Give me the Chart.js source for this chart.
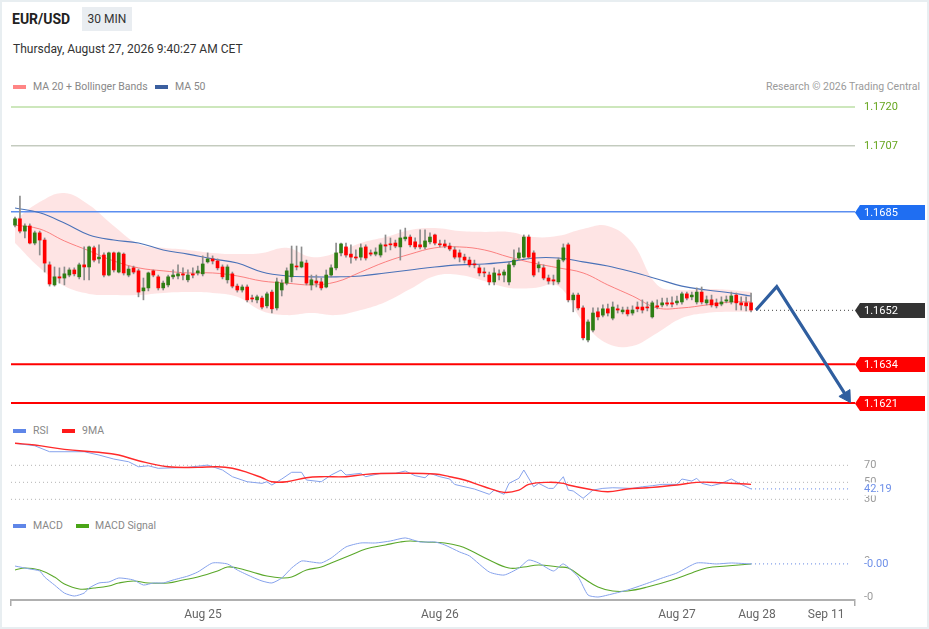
<!DOCTYPE html>
<html>
<head>
<meta charset="utf-8">
<script src="https://cdn.jsdelivr.net/npm/chart.js@4.4.1/dist/chart.umd.min.js"></script>
<style>
html,body{margin:0;padding:0;background:#fff;}
#wrap{position:relative;width:929px;height:629px;overflow:hidden;font-family:Roboto,Arial,sans-serif;background:#fff;}
#frame{position:absolute;left:0;top:0;width:929px;height:629px;box-sizing:border-box;border:2px solid #e8eef1;pointer-events:none;z-index:20;}
canvas{position:absolute;left:0;}
.t{position:absolute;white-space:nowrap;}
.sw{position:absolute;height:4px;width:13px;}
</style>
</head>
<body>
<div id="wrap">
  <div class="t" style="left:12px;top:10px;font-size:14px;font-weight:bold;color:#222;line-height:18px;">EUR/USD</div>
  <div class="t" style="left:82px;top:7px;width:50px;height:24px;background:#e9edf1;font-size:12px;color:#333;line-height:24px;text-align:center;">30 MIN</div>
  <div class="t" style="left:13px;top:41px;font-size:12px;color:#333;line-height:16px;">Thursday, August 27, 2026 9:40:27 AM CET</div>

  <div class="sw" style="left:13px;top:85px;background:#ff8585;"></div>
  <div class="t" style="left:33px;top:80px;font-size:10.5px;color:#888;line-height:14px;">MA 20 + Bollinger Bands</div>
  <div class="sw" style="left:155px;top:85px;background:#3b5f9f;"></div>
  <div class="t" style="left:175px;top:80px;font-size:10.5px;color:#888;line-height:14px;">MA 50</div>
  <div class="t" style="right:9px;top:80px;font-size:10.5px;color:#9a9a9a;line-height:14px;">Research © 2026 Trading Central</div>

  <div class="sw" style="left:13px;top:429px;background:#5f86e8;"></div>
  <div class="t" style="left:33px;top:424px;font-size:10.5px;color:#888;line-height:14px;">RSI</div>
  <div class="sw" style="left:62px;top:429px;background:#ff1a1a;"></div>
  <div class="t" style="left:82px;top:424px;font-size:10.5px;color:#888;line-height:14px;">9MA</div>

  <div class="sw" style="left:13px;top:524px;background:#5f86e8;"></div>
  <div class="t" style="left:33px;top:519px;font-size:10.5px;color:#888;line-height:14px;">MACD</div>
  <div class="sw" style="left:76px;top:524px;background:#4aa517;"></div>
  <div class="t" style="left:95px;top:519px;font-size:10.5px;color:#888;line-height:14px;">MACD Signal</div>

  <canvas id="mainChart" width="929" height="320" style="top:95px;"></canvas>
  <canvas id="rsiChart" width="929" height="68" style="top:436px;"></canvas>
  <canvas id="macdChart" width="929" height="96" style="top:530px;"></canvas>
  <div id="frame"></div>
</div>
<script>
// ---------------- DATA ----------------
const opens = [1.16805,1.16826,1.16785,1.16802,1.16745,1.16779,1.16755,1.16672,1.16605,1.16632,
1.16628,1.16638,1.16655,1.16632,1.16672,1.16665,1.16729,1.16692,1.16705,1.16638,
1.16712,1.16648,1.16708,1.16638,1.16662,1.16652,1.16585,1.16595,1.16652,1.16632,
1.16595,1.16605,1.16632,1.16635,1.16642,1.16622,1.16642,1.16645,1.16642,1.16682,
1.16692,1.16685,1.16665,1.16622,1.16642,1.16601,1.16588,1.16598,1.16561,1.16555,
1.16561,1.16535,1.16581,1.16528,1.16588,1.16611,1.16632,1.16668,1.16665,1.16678,
1.16605,1.16618,1.16615,1.16598,1.16638,1.16662,1.16712,1.16732,1.16708,1.16698,
1.16698,1.16732,1.16712,1.16708,1.16705,1.16739,1.16742,1.16745,1.16732,1.16759,
1.16765,1.16749,1.16739,1.16732,1.16749,1.16772,1.16742,1.16742,1.16735,1.16722,
1.16712,1.16698,1.16688,1.16675,1.16662,1.16648,1.16638,1.16615,1.16642,1.16638,
1.16615,1.16672,1.16695,1.16698,1.16765,1.16712,1.16662,1.16662,1.16628,1.16622,
1.16615,1.16688,1.16739,1.16555,1.16571,1.16528,1.16421,1.16454,1.16515,1.16504,
1.16525,1.16494,1.16525,1.16515,1.16521,1.16511,1.16531,1.16531,1.16531,1.16498,
1.16535,1.16538,1.16545,1.16545,1.16545,1.16548,1.16575,1.16565,1.16548,1.16581,
1.16545,1.16555,1.16545,1.16541,1.16551,1.16548,1.16571,1.16545,1.16545,1.16545];
const closes = [1.16826,1.16785,1.16802,1.16745,1.16779,1.16755,1.16678,1.16608,1.16632,1.16628,
1.16642,1.16655,1.16642,1.16672,1.16665,1.16732,1.16688,1.16698,1.16638,1.16712,
1.16655,1.16712,1.16645,1.16658,1.16648,1.16581,1.16595,1.16645,1.16638,1.16595,
1.16611,1.16632,1.16638,1.16642,1.16638,1.16638,1.16638,1.16652,1.16675,1.16692,
1.16685,1.16662,1.16632,1.16665,1.16601,1.16588,1.16598,1.16555,1.16558,1.16565,
1.16531,1.16575,1.16525,1.16615,1.16611,1.16652,1.16675,1.16665,1.16682,1.16611,
1.16622,1.16611,1.16595,1.16638,1.16662,1.16712,1.16742,1.16705,1.16698,1.16695,
1.16729,1.16695,1.16708,1.16715,1.16739,1.16735,1.16739,1.16735,1.16762,1.16765,
1.16739,1.16732,1.16732,1.16752,1.16765,1.16745,1.16739,1.16735,1.16725,1.16698,
1.16698,1.16688,1.16672,1.16672,1.16645,1.16645,1.16615,1.16645,1.16638,1.16648,
1.16672,1.16688,1.16712,1.16765,1.16698,1.16638,1.16672,1.16628,1.16618,1.16618,
1.16688,1.16729,1.16555,1.16571,1.16528,1.16428,1.16481,1.16511,1.16498,1.16525,
1.16511,1.16531,1.16521,1.16521,1.16508,1.16521,1.16525,1.16521,1.16528,1.16545,
1.16531,1.16545,1.16541,1.16541,1.16551,1.16575,1.16561,1.16571,1.16581,1.16548,
1.16555,1.16538,1.16535,1.16548,1.16555,1.16568,1.16545,1.16538,1.16535,1.16521];
const highs = [1.16832,1.16902,1.16809,1.16809,1.16785,1.16785,1.16762,1.16682,1.16665,1.16662,
1.16665,1.16662,1.16662,1.16678,1.16732,1.16735,1.16735,1.16739,1.16712,1.16715,
1.16715,1.16715,1.16712,1.16668,1.16668,1.16658,1.16628,1.16648,1.16655,1.16638,
1.16618,1.16638,1.16655,1.16672,1.16662,1.16655,1.16662,1.16668,1.16702,1.16712,
1.16702,1.16692,1.16672,1.16672,1.16648,1.16608,1.16605,1.16605,1.16571,1.16571,
1.16568,1.16581,1.16588,1.16628,1.16622,1.16662,1.16735,1.16735,1.16732,1.16688,
1.16638,1.16638,1.16628,1.16655,1.16672,1.16745,1.16745,1.16745,1.16739,1.16722,
1.16742,1.16739,1.16722,1.16729,1.16745,1.16772,1.16762,1.16755,1.16789,1.16795,
1.16772,1.16762,1.16789,1.16789,1.16779,1.16775,1.16755,1.16755,1.16745,1.16732,
1.16722,1.16708,1.16698,1.16688,1.16672,1.16662,1.16648,1.16662,1.16655,1.16655,
1.16682,1.16722,1.16729,1.16772,1.16772,1.16719,1.16682,1.16672,1.16638,1.16638,
1.16695,1.16742,1.16745,1.16578,1.16578,1.16535,1.16488,1.16528,1.16528,1.16538,
1.16541,1.16548,1.16538,1.16531,1.16531,1.16535,1.16548,1.16555,1.16548,1.16551,
1.16555,1.16561,1.16561,1.16565,1.16568,1.16581,1.16581,1.16581,1.16595,1.16598,
1.16568,1.16571,1.16558,1.16565,1.16568,1.16581,1.16578,1.16565,1.16565,1.16578];
const lows = [1.16799,1.16779,1.16762,1.16742,1.16739,1.16705,1.16648,1.16601,1.16601,1.16611,
1.16605,1.16632,1.16635,1.16625,1.16622,1.16622,1.16682,1.16678,1.16632,1.16635,
1.16648,1.16645,1.16638,1.16632,1.16642,1.16565,1.16555,1.16585,1.16632,1.16588,
1.16588,1.16598,1.16625,1.16625,1.16622,1.16615,1.16628,1.16638,1.16635,1.16678,
1.16675,1.16655,1.16625,1.16611,1.16595,1.16581,1.16581,1.16548,1.16548,1.16545,
1.16525,1.16528,1.16511,1.16521,1.16568,1.16605,1.16615,1.16655,1.16662,1.16605,
1.16588,1.16598,1.16588,1.16595,1.16632,1.16655,1.16702,1.16698,1.16678,1.16688,
1.16688,1.16688,1.16702,1.16702,1.16698,1.16715,1.16722,1.16729,1.16688,1.16752,
1.16732,1.16725,1.16725,1.16725,1.16742,1.16739,1.16732,1.16729,1.16719,1.16692,
1.16682,1.16678,1.16665,1.16662,1.16635,1.16632,1.16605,1.16605,1.16622,1.16615,
1.16605,1.16665,1.16688,1.16695,1.16692,1.16632,1.16648,1.16622,1.16608,1.16605,
1.16608,1.16682,1.16548,1.16515,1.16521,1.16421,1.16414,1.16448,1.16488,1.16498,
1.16501,1.16488,1.16511,1.16508,1.16501,1.16504,1.16515,1.16511,1.16518,1.16494,
1.16525,1.16531,1.16535,1.16531,1.16538,1.16541,1.16555,1.16555,1.16541,1.16541,
1.16538,1.16531,1.16528,1.16535,1.16545,1.16541,1.16521,1.16521,1.16518,1.16515];

const bandIdx = [0,5,10,15,20,25,30,35,40,45,50,55,60,65,70,75,80,85,90,95,100,105,110,115,120,125,130,135,140,145,149];
const bbUpper = [1.16822,1.16882,1.16912,1.16872,1.16802,1.16742,1.16729,1.16722,1.16712,1.16708,1.16712,1.16729,1.16698,1.16712,1.16745,1.16765,1.16789,1.16795,1.16785,1.16782,1.16782,1.16765,1.16769,1.16792,1.16802,1.16745,1.16605,1.16588,1.16591,1.16588,1.16581];
const bbLower = [1.16745,1.16662,1.16601,1.16575,1.16571,1.16571,1.16578,1.16581,1.16578,1.16565,1.16518,1.16504,1.16511,1.16504,1.16521,1.16548,1.16591,1.16635,1.16638,1.16618,1.16595,1.16595,1.16601,1.16481,1.16408,1.16401,1.16444,1.16494,1.16511,1.16515,1.16515];
const ma20 = [1.16805,1.16792,1.16752,1.16719,1.16685,1.16662,1.16652,1.16645,1.16645,1.16635,1.16618,1.16611,1.16605,1.16615,1.16648,1.16682,1.16708,1.16729,1.16732,1.16722,1.16698,1.16678,1.16662,1.16645,1.16605,1.16568,1.16528,1.16528,1.16538,1.16548,1.16548];
const ma50 = [1.16862,1.16846,1.16812,1.16772,1.16755,1.16745,1.16722,1.16708,1.16692,1.16678,1.16648,1.16635,1.16632,1.16632,1.16635,1.16645,1.16655,1.16665,1.16672,1.16675,1.16682,1.16695,1.16695,1.16682,1.16668,1.16648,1.16625,1.16601,1.16588,1.16578,1.16568];

const levels = [1.1720, 1.1707, 1.1685, 1.1652, 1.1634, 1.1621];
const projIdx = [150, 154.2, 168.3];
const projPrice = [1.16521, 1.16599, 1.16233];

const rsiIdx = [0,4,7,14,17,20,23,25,27,29,35,39,42,44,47,50,51,52,54,56,58,59,62,64,66,67,70,71,74,77,79,81,83,84,86,88,89,93,96,97,99,100,102,103,105,106,108,109,111,112,113,115,117,119,121,125,127,129,131,134,135,137,138,139,141,143,145,147,149];
const rsiVals = [95.9,93.0,86.0,86.0,82.1,77.4,74.2,68.3,69.5,66.5,67.6,70.3,64.5,56.6,50.7,48.8,50.7,46.8,53.9,61.8,61.8,52.7,50.7,58.6,64.5,58.6,60.6,56.6,60.6,60.6,63.3,57.8,55.4,60.6,56.6,53.9,47.5,42.1,35.9,40.9,35.9,48.8,54.7,64.5,44.8,48.8,42.9,42.9,56.6,40.9,39.8,31.2,40.9,42.9,43.6,42.9,44.8,46.0,47.6,47.6,53.9,51.5,54.7,48.8,46.0,48.8,53.9,47.6,42.19];
const rsiMaIdx = [0,4,10,17,21,25,31,37,41,44,47,50,52,55,59,62,67,71,78,85,88,91,95,99,102,104,108,111,112,116,120,124,128,134,138,143,149];
const rsiMaVals = [95.9,93.9,88.8,85.3,82.1,75.4,68.3,67.6,68.3,66.5,61.8,55.4,50.7,50.7,55.4,56.6,56.6,59.4,60.6,59.8,56.6,52.7,44.8,38.2,40.9,47.6,50.0,48.8,46.8,42.1,38.9,42.1,43.6,46.8,50.0,49.5,47.6];
const rsiLevels = [70, 50, 30];

const macdIdx = [0,3,5,6,8,10,12,14,15,17,19,21,24,26,28,30,32,35,37,40,43,45,48,50,52,54,56,58,60,62,64,67,70,73,76,79,82,85,87,90,92,96,99,102,104,106,109,111,114,116,118,120,124,127,131,134,138,142,145,149];
const macdVals = [-0.000056,-0.000089,-0.000111,-0.000178,-0.000267,-0.000356,-0.000389,-0.000356,-0.000300,-0.000244,
-0.000233,-0.000189,-0.000211,-0.000267,-0.000244,-0.000244,-0.000211,-0.000167,-0.000122,-0.000022,
-0.000033,-0.000100,-0.000178,-0.000222,-0.000244,-0.000189,-0.000078,0.000000,-0.000011,-0.000022,
0.000033,0.000156,0.000200,0.000200,0.000222,0.000256,0.000211,0.000211,0.000178,0.000100,
0.000056,-0.000122,-0.000156,-0.000078,0.000011,-0.000022,-0.000111,-0.000033,-0.000178,-0.000378,
-0.000400,-0.000378,-0.000322,-0.000267,-0.000189,-0.000133,-0.000022,-0.000033,-0.000022,-0.000033];
const signalIdx = [0,2,5,8,10,13,16,19,21,24,27,31,34,37,41,43,45,48,51,54,56,59,62,64,68,71,75,78,80,83,87,90,92,96,100,103,106,110,112,115,118,121,124,128,133,137,140,144,149];
const signalVals = [-0.000100,-0.000078,-0.000100,-0.000178,-0.000256,-0.000311,-0.000300,-0.000278,-0.000244,-0.000222,
-0.000244,-0.000244,-0.000211,-0.000178,-0.000111,-0.000067,-0.000078,-0.000122,-0.000167,-0.000189,
-0.000178,-0.000100,-0.000067,-0.000022,0.000067,0.000133,0.000178,0.000211,0.000222,0.000211,
0.000200,0.000167,0.000122,0.000011,-0.000078,-0.000067,-0.000044,-0.000067,-0.000078,-0.000189,
-0.000289,-0.000333,-0.000333,-0.000289,-0.000211,-0.000133,-0.000078,-0.000056,-0.000033];
const macdTicks = [0, -0.0004];

const tickIdx = [38.06, 86, 134, 150.2, 164.2];
const tickLabels = ['Aug 25', 'Aug 26', 'Aug 27', 'Aug 28', 'Sep 11'];

// ---------------- LAYOUT / STYLE ----------------
const X_MIN = -0.81, X_MAX = 170.04, X_EXT = 169.2;
const PRICE_MIN = 1.1617, PRICE_MAX = 1.1724;
const RSI_MIN = 24.5, RSI_MAX = 104.5;
const MACD_MIN = -0.000433, MACD_MAX = 0.000344;
const PAD = {left: 11, right: 74, top: 0, bottom: 0};
const FONT = 'Roboto, Arial, sans-serif';
const GREEN = '#2f7d14', RED = '#ff0000', WICK = '#8c8c8c';
const levelStyle = [
  {line: '#bddfa6', w: 1.5, kind: 'text', color: '#66a61e'},
  {line: '#a8b3a0', w: 1, kind: 'text', color: '#66a61e'},
  {line: '#5b8ef0', w: 1.5, kind: 'tag', color: '#1f6ef2'},
  {line: '#444444', w: 1, kind: 'tag', color: '#333333', dash: [1, 3], fromProj: true},
  {line: '#ff0000', w: 2, kind: 'tag', color: '#ff0000'},
  {line: '#ff0000', w: 2, kind: 'tag', color: '#ff0000'}
];

Chart.defaults.font.family = FONT;
Chart.defaults.animation = false;

const pts = (xs, ys) => xs.map((x, i) => ({x: x, y: ys[i]}));
const idx = opens.map((_, i) => i);
const bodyColor = (ctx) => {
  const i = ctx.dataIndex;
  return closes[i] >= opens[i] ? GREEN : RED;
};
const commonX = {type: 'linear', min: X_MIN, max: X_MAX, display: false, offset: false, grid: {offset: false}};
const baseOpts = {
  responsive: false,
  maintainAspectRatio: false,
  animation: false,
  events: [],
  layout: {padding: PAD, autoPadding: false},
  plugins: {legend: {display: false}, tooltip: {enabled: false}}
};

// ---------------- MAIN CHART ----------------
const levelDatasets = levels.map((v, i) => {
  const s = levelStyle[i];
  const x0 = s.fromProj ? projIdx[0] : X_MIN;
  return {
    type: 'line', data: [{x: x0, y: v}, {x: X_MAX, y: v}],
    borderColor: s.line, borderWidth: s.w, borderDash: s.dash || [],
    pointRadius: 0, fill: false, order: 6
  };
});

const tagPlugin = {
  id: 'levelTags',
  afterDatasetsDraw(chart) {
    const ctx = chart.ctx, ys = chart.scales.y, ca = chart.chartArea;
    ctx.save();
    ctx.font = '11px ' + FONT;
    ctx.textBaseline = 'middle';
    levels.forEach((v, i) => {
      const s = levelStyle[i];
      const py = Math.round(ys.getPixelForValue(v)) + 0.5;
      const txt = v.toFixed(4);
      const tx = ca.right + 9;
      if (s.kind === 'text') {
        ctx.fillStyle = s.color;
        ctx.fillText(txt, tx, py);
      } else {
        const l = ca.right, r = chart.width - 4, h = 7.5;
        ctx.fillStyle = s.color;
        ctx.beginPath();
        ctx.moveTo(l, py);
        ctx.lineTo(l + 5, py - h);
        ctx.lineTo(r, py - h);
        ctx.lineTo(r, py + h);
        ctx.lineTo(l + 5, py + h);
        ctx.closePath();
        ctx.fill();
        ctx.fillStyle = '#ffffff';
        ctx.fillText(txt, tx, py + 0.5);
      }
    });
    ctx.restore();
  }
};

new Chart(document.getElementById('mainChart'), {
  type: 'line',
  data: {
    datasets: [
      {type: 'line', data: pts(bandIdx, bbUpper), borderWidth: 0, borderColor: 'rgba(0,0,0,0)', pointRadius: 0,
       tension: 0.4, fill: '+1', backgroundColor: 'rgba(250,90,90,0.16)', order: 20},
      {type: 'line', data: pts(bandIdx, bbLower), borderWidth: 0, borderColor: 'rgba(0,0,0,0)', pointRadius: 0,
       tension: 0.4, fill: false, order: 20},
      {type: 'line', data: pts(bandIdx, ma20), borderColor: 'rgba(250,110,110,0.85)', borderWidth: 1, pointRadius: 0,
       tension: 0.4, fill: false, order: 5},
      {type: 'line', data: pts(bandIdx, ma50), borderColor: '#4a72b8', borderWidth: 1.1, pointRadius: 0,
       tension: 0.4, fill: false, order: 5},
      ...levelDatasets,
      {type: 'bar', data: idx.map(i => ({x: i, y: [lows[i], highs[i]]})), backgroundColor: WICK,
       barThickness: 1, grouped: false, minBarLength: 1, order: 3},
      {type: 'bar', data: idx.map(i => ({x: i, y: [opens[i], closes[i]]})), backgroundColor: bodyColor,
       barThickness: 3, grouped: false, minBarLength: 1, order: 2},
      {type: 'line', data: pts(projIdx, projPrice), borderColor: '#2f5e9f', borderWidth: 3.2,
       pointRadius: [0, 0, 7.5], pointStyle: 'triangle', pointRotation: [0, 0, 148],
       pointBackgroundColor: '#2f5e9f', pointBorderColor: '#2f5e9f', pointBorderWidth: 1,
       tension: 0, fill: false, order: 1, clip: false}
    ]
  },
  options: Object.assign({}, baseOpts, {
    scales: {
      x: commonX,
      y: {type: 'linear', min: PRICE_MIN, max: PRICE_MAX, display: false, beginAtZero: false}
    }
  }),
  plugins: [tagPlugin]
});

// ---------------- RSI CHART ----------------
const rsiLast = rsiVals[rsiVals.length - 1];
const rsiLabelPlugin = {
  id: 'rsiLabels',
  afterDatasetsDraw(chart) {
    const ctx = chart.ctx, ys = chart.scales.y, ca = chart.chartArea;
    ctx.save();
    ctx.font = '11px ' + FONT;
    ctx.textBaseline = 'middle';
    ctx.fillStyle = '#9a9a9a';
    rsiLevels.forEach(v => ctx.fillText(String(v), ca.right + 9, ys.getPixelForValue(v)));
    const py = ys.getPixelForValue(rsiLast);
    ctx.fillStyle = '#ffffff';
    ctx.fillRect(ca.right + 7, py - 6.5, 40, 13);
    ctx.fillStyle = '#6d8fe8';
    ctx.fillText(rsiLast.toFixed(2), ca.right + 9, py + 0.5);
    ctx.restore();
  }
};
new Chart(document.getElementById('rsiChart'), {
  type: 'line',
  data: {
    datasets: [
      ...rsiLevels.map(v => ({data: [{x: X_MIN, y: v}, {x: X_EXT, y: v}], borderColor: '#b5b5b5', borderWidth: 1,
        borderDash: [1, 3], pointRadius: 0, fill: false, order: 10})),
      {data: [{x: rsiIdx[rsiIdx.length - 1], y: rsiLast}, {x: X_EXT, y: rsiLast}], borderColor: '#7d9be8', borderWidth: 1.2,
        borderDash: [1, 3], pointRadius: 0, fill: false, order: 9},
      {data: pts(rsiIdx, rsiVals), borderColor: '#86a2ec', borderWidth: 1, pointRadius: 0, tension: 0, fill: false, order: 2},
      {data: pts(rsiMaIdx, rsiMaVals), borderColor: '#ff2a2a', borderWidth: 1.4, pointRadius: 0, tension: 0.4, fill: false, order: 1}
    ]
  },
  options: Object.assign({}, baseOpts, {
    scales: {
      x: commonX,
      y: {type: 'linear', min: RSI_MIN, max: RSI_MAX, display: false}
    }
  }),
  plugins: [rsiLabelPlugin]
});

// ---------------- MACD CHART ----------------
const macdLast = macdVals[macdVals.length - 1];
const macdLabelPlugin = {
  id: 'macdLabels',
  afterDatasetsDraw(chart) {
    const ctx = chart.ctx, ys = chart.scales.y, ca = chart.chartArea;
    ctx.save();
    ctx.font = '11px ' + FONT;
    ctx.textBaseline = 'middle';
    ctx.fillStyle = '#9a9a9a';
    macdTicks.forEach(v => ctx.fillText(v.toFixed(0), ca.right + 9, ys.getPixelForValue(v)));
    const py = ys.getPixelForValue(macdLast);
    ctx.fillStyle = '#ffffff';
    ctx.fillRect(ca.right + 7, py - 6, 40, 13);
    ctx.fillStyle = '#6d8fe8';
    ctx.fillText(macdLast.toFixed(2), ca.right + 9, py + 0.5);
    ctx.restore();
  }
};
const xTickValues = [X_MIN, ...tickIdx, X_MAX];
const xTickText = ['', ...tickLabels, ''];
new Chart(document.getElementById('macdChart'), {
  type: 'line',
  data: {
    datasets: [
      {data: [{x: macdIdx[macdIdx.length - 1], y: macdLast}, {x: X_EXT, y: macdLast}], borderColor: '#7d9be8', borderWidth: 1.2,
        borderDash: [1, 3], pointRadius: 0, fill: false, order: 9},
      {data: pts(signalIdx, signalVals), borderColor: '#5aa82a', borderWidth: 1.1, pointRadius: 0, tension: 0.4, fill: false, order: 2},
      {data: pts(macdIdx, macdVals), borderColor: '#86a2ec', borderWidth: 1, pointRadius: 0, tension: 0.2, fill: false, order: 1}
    ]
  },
  options: Object.assign({}, baseOpts, {
    scales: {
      x: {
        type: 'linear', min: X_MIN, max: X_MAX, offset: false, position: 'bottom',
        afterBuildTicks: (s) => { s.ticks = xTickValues.map(v => ({value: v})); },
        afterFit: (s) => { s.height = 26; },
        ticks: {
          autoSkip: false, maxRotation: 0, minRotation: 0, padding: 2, color: '#666', font: {size: 12},
          callback: (v, i) => xTickText[i]
        },
        grid: {
          drawOnChartArea: false, drawTicks: true, tickLength: 6, lineWidth: 1.5, offset: false,
          color: (c) => (c.index === 0 || c.index === xTickValues.length - 1) ? '#aaaaaa' : 'rgba(0,0,0,0)'
        },
        border: {display: true, color: '#b0b0b0', width: 2}
      },
      y: {type: 'linear', min: MACD_MIN, max: MACD_MAX, display: false}
    }
  }),
  plugins: [macdLabelPlugin]
});
</script>
</body>
</html>
